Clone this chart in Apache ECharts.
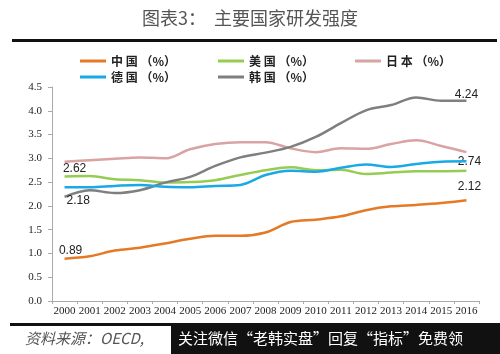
<!DOCTYPE html>
<html>
<head>
<meta charset="utf-8">
<script src="https://cdn.jsdelivr.net/npm/echarts@6/dist/echarts.min.js"></script>
<style>
  html, body { margin: 0; padding: 0; background: #fff; }
  #chart { width: 500px; height: 354px; }
</style>
</head>
<body>
<div id="chart"></div>
<script>
// 年份
var years = ['2000', '2001', '2002', '2003', '2004', '2005', '2006', '2007', '2008',
  '2009', '2010', '2011', '2012', '2013', '2014', '2015', '2016'];
// 各国研发强度 (%)
var china   = [0.89, 0.94, 1.06, 1.12, 1.21, 1.31, 1.37, 1.37, 1.44, 1.66, 1.71, 1.78, 1.91, 1.99, 2.02, 2.06, 2.12];
var usa     = [2.62, 2.63, 2.56, 2.54, 2.49, 2.50, 2.54, 2.65, 2.75, 2.81, 2.75, 2.76, 2.67, 2.70, 2.73, 2.73, 2.74];
var japan   = [2.93, 2.96, 2.99, 3.02, 3.00, 3.19, 3.30, 3.34, 3.34, 3.21, 3.13, 3.21, 3.20, 3.30, 3.38, 3.26, 3.13];
var germany = [2.39, 2.39, 2.42, 2.44, 2.40, 2.39, 2.42, 2.44, 2.65, 2.74, 2.72, 2.80, 2.87, 2.82, 2.88, 2.93, 2.94];
var korea   = [2.19, 2.33, 2.27, 2.33, 2.49, 2.61, 2.84, 3.02, 3.12, 3.24, 3.45, 3.74, 4.01, 4.12, 4.28, 4.21, 4.21];
var names = ['中 国 （%）', '美 国 （%）', '日 本 （%）', '德 国 （%）', '韩 国 （%）'];
var yTicks = [0, 0.5, 1, 1.5, 2, 2.5, 3, 3.5, 4, 4.5];

var colors = ['#e47a26', '#96cc52', '#d9a3a3', '#1ba9e6', '#7f7f7f'];

var labelFont = { fontFamily: 'Liberation Sans', fontSize: 12, color: '#222' };

// 给指定点加数值标签
function withLabels(arr, marks) {
  return arr.map(function (v, i) {
    if (marks[i]) {
      return { value: v, label: Object.assign({ show: true, formatter: marks[i].text }, labelFont, marks[i].opt) };
    }
    return v;
  });
}

var chinaData = withLabels(china, {
  0: { text: '0.89', opt: { position: 'top', distance: 2, offset: [6, 0] } },
  16: { text: '2.12', opt: { position: 'top', distance: 7, offset: [3, 0] } }
});
var usaData = withLabels(usa, {
  0: { text: '2.62', opt: { position: 'top', distance: 2, offset: [10, 0] } },
  16: { text: '2.74', opt: { position: 'top', distance: 3, offset: [3, 0] } }
});
var koreaData = withLabels(korea, {
  0: { text: '2.18', opt: { position: 'right', distance: 2, offset: [0, 4] } },
  16: { text: '4.24', opt: { position: 'top', distance: 0, offset: [0, 0] } }
});

var seriesData = [chinaData, usaData, japan, germany, koreaData];

var legendPos = [[75, 50], [213, 50], [350, 50], [75, 66], [213, 66]];

var myChart = echarts.init(document.getElementById('chart'));

var option = {
  animation: false,
  color: colors,
  title: {
    text: '图表3：  主要国家研发强度',
    left: 'center',
    top: 4,
    textStyle: { fontFamily: 'Noto Sans CJK SC', fontSize: 18, fontWeight: 'normal', color: '#555' }
  },
  legend: names.map(function (n, i) {
    return {
      data: [n],
      left: legendPos[i][0],
      top: legendPos[i][1],
      icon: 'rect',
      itemWidth: 26,
      itemHeight: 3,
      itemGap: 4,
      textStyle: { fontFamily: 'Noto Sans CJK SC', fontSize: 12, fontWeight: 'bold', color: '#222' }
    };
  }),
  grid: { left: 52, right: 21, top: 87, bottom: 53 },
  xAxis: {
    type: 'category',
    data: years,
    boundaryGap: true,
    axisLine: { lineStyle: { color: '#aaa' } },
    axisTick: { show: true, length: 3, lineStyle: { color: '#aaa' } },
    axisLabel: { fontFamily: 'Liberation Serif', fontSize: 11, color: '#222', margin: 5, interval: 0 }
  },
  yAxis: {
    type: 'value',
    min: yTicks[0],
    max: yTicks[yTicks.length - 1],
    interval: 0.5,
    splitLine: { show: false },
    axisLine: { show: true, lineStyle: { color: '#aaa' } },
    axisTick: { show: true, length: 4, lineStyle: { color: '#aaa' } },
    axisLabel: {
      fontFamily: 'Liberation Serif', fontSize: 11, color: '#222', margin: 10,
      formatter: function (v) { return v.toFixed(1); }
    }
  },
  series: seriesData.map(function (d, i) {
    return {
      name: names[i],
      type: 'line',
      data: d,
      smooth: 0.35,
      symbol: 'circle',
      symbolSize: 0,
      showSymbol: true,
      lineStyle: { width: 2.5, color: colors[i] },
      z: i === 3 ? 4 : 2
    };
  }),
  graphic: [
    { type: 'rect', shape: { x: 12, y: 39, width: 485, height: 3 }, style: { fill: '#111' } },
    { type: 'rect', shape: { x: 10, y: 323, width: 490, height: 3 }, style: { fill: '#111' } },
    {
      type: 'text', left: 25, top: 331,
      style: { text: '资料来源：OECD,', font: 'italic 15px "Noto Sans CJK SC"', fill: '#555' }
    },
    { type: 'rect', shape: { x: 171, y: 326, width: 329, height: 28 }, style: { fill: '#111' }, z: 10 },
    {
      type: 'text', left: 178, top: 331, z: 11,
      style: { text: '关注微信“老韩实盘”回复“指标”免费领', font: '15px "Noto Sans CJK SC"', fill: '#fff' }
    }
  ]
};

myChart.setOption(option);
</script>
</body>
</html>
